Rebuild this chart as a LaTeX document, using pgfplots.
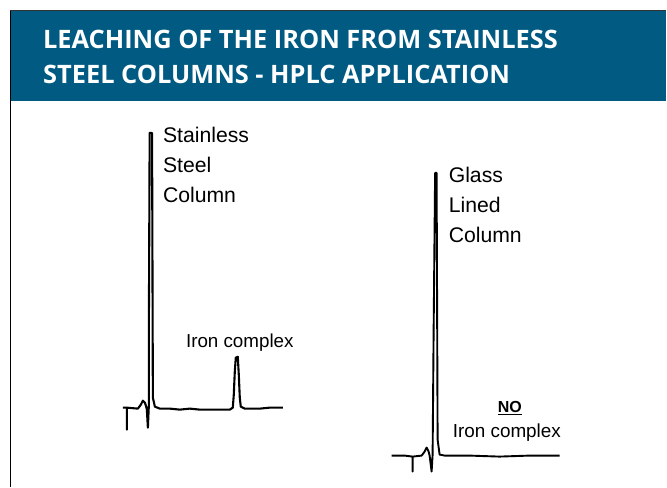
\documentclass[border=0pt]{standalone}
\usepackage{pgfplots}
\pgfplotsset{compat=1.18}
\usepackage{fontspec}
\setmainfont{Liberation Sans}
\newfontfamily\titlefont{Open Sans}
\definecolor{band}{RGB}{0,90,130}
\begin{document}
\begin{tikzpicture}
\begin{axis}[width=667bp,height=487bp,scale only axis,
  xmin=0,xmax=667,ymin=0,ymax=487,y dir=reverse,hide axis,clip=false]
\fill[white] (axis cs:0,0) rectangle (axis cs:667,487);
\fill[band] (axis cs:11,11) rectangle (axis cs:667,101);
\draw[black,line width=1.8bp] (axis cs:10.5,487) -- (axis cs:10.5,10.5);
\draw[black!80,line width=1.2bp] (axis cs:9.6,10.6) -- (axis cs:667,10.6);
\node[anchor=base west,inner sep=0pt,text=white] at (axis cs:43,48.5)
  {\titlefont\bfseries\fontsize{25.4bp}{28bp}\selectfont LEACHING OF THE IRON FROM STAINLESS};
\node[anchor=base west,inner sep=0pt,text=white] at (axis cs:43,83.5)
  {\titlefont\bfseries\fontsize{25.4bp}{28bp}\selectfont STEEL COLUMNS - HPLC APPLICATION};
% stainless steel column chromatogram
\addplot[black,line width=2.1bp,line join=round] coordinates {
(123,408) (127,408) (127,430) (127,408) (138,409) (141,405) (143,401) (145,403)
(146,406) (147,410) (148,428) (149,405) (149,328) (149.8,133) (152.2,133) (153,398)
(155,407) (160,409) (170,409) (180,410) (190,409) (200,410) (215,410) (230,410)
(233,408) (234,395) (235,372) (236,358) (238,357) (239,375) (240,398) (241,407)
(245,409) (260,409) (270,408) (283,408)};
% glass lined column chromatogram
\addplot[black,line width=1.9bp,line join=round] coordinates {
(392,456) (405,456) (413,457) (413,472) (413,457) (422,456) (425,452) (427,448)
(429,452) (430,456) (432,472) (433,455) (434,333) (435.5,173) (437,173) (438,440)
(440,455) (445,456) (470,456) (500,457) (530,456) (560,456)};
\node[anchor=base west,inner sep=0pt] at (axis cs:163,143) {\fontsize{21.2bp}{23bp}\selectfont Stainless};
\node[anchor=base west,inner sep=0pt] at (axis cs:163,173) {\fontsize{21.2bp}{23bp}\selectfont Steel};
\node[anchor=base west,inner sep=0pt] at (axis cs:163,203) {\fontsize{21.2bp}{23bp}\selectfont Column};
\node[anchor=base west,inner sep=0pt] at (axis cs:186,348) {\fontsize{18.8bp}{22bp}\selectfont Iron complex};
\node[anchor=base west,inner sep=0pt] at (axis cs:449,183) {\fontsize{21.2bp}{23bp}\selectfont Glass};
\node[anchor=base west,inner sep=0pt] at (axis cs:449,213) {\fontsize{21.2bp}{23bp}\selectfont Lined};
\node[anchor=base west,inner sep=0pt] at (axis cs:449,243) {\fontsize{21.2bp}{23bp}\selectfont Column};
\node[anchor=base west,inner sep=0pt] at (axis cs:498,413) {\fontsize{16bp}{18bp}\selectfont\bfseries\underline{NO}};
\node[anchor=base west,inner sep=0pt] at (axis cs:453,438) {\fontsize{18.9bp}{22bp}\selectfont Iron complex};
\end{axis}
\end{tikzpicture}
\end{document}
